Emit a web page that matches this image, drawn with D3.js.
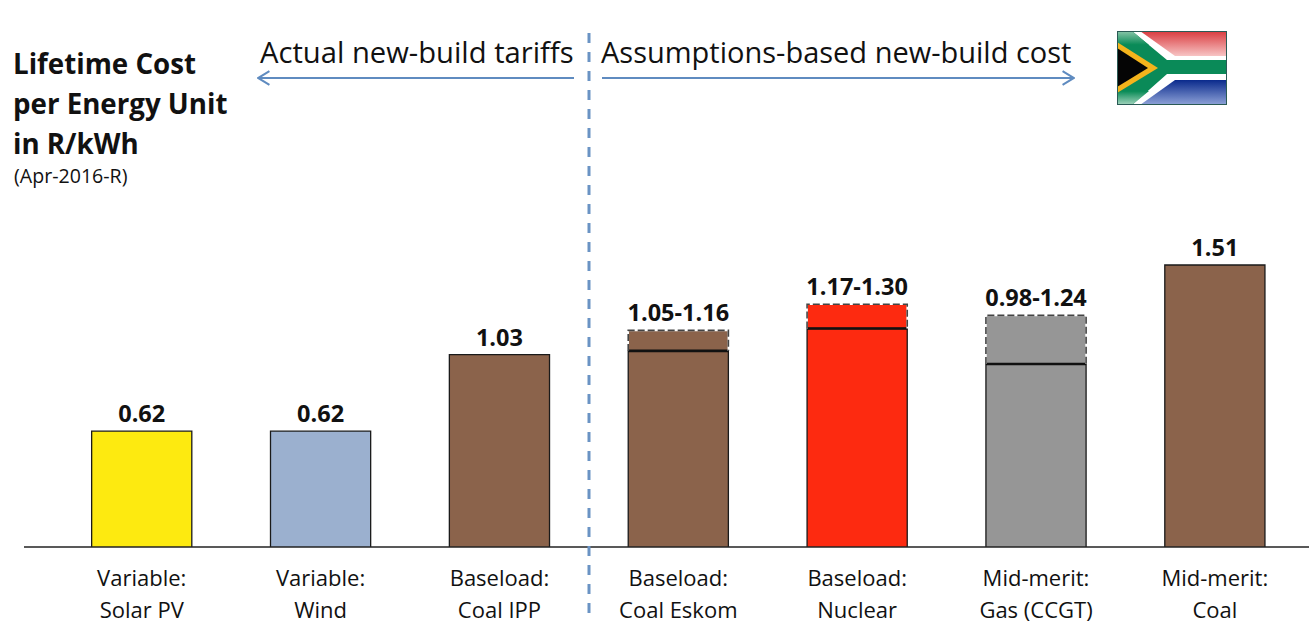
<!DOCTYPE html>
<html><head><meta charset="utf-8">
<script src="https://cdn.jsdelivr.net/npm/d3@7"></script>
<style>html,body{margin:0;padding:0;background:#fff}svg{display:block}text{font-family:"Open Sans",sans-serif;fill:#111}</style>
</head><body><svg id="c" width="1309" height="631"></svg>
<script>
const categoryTop = ["Variable:","Variable:","Baseload:","Baseload:","Baseload:","Mid-merit:","Mid-merit:"];
const categoryBottom = ["Solar PV","Wind","Coal IPP","Coal Eskom","Nuclear","Gas (CCGT)","Coal"];
const highValues = [0.62,0.62,1.03,1.16,1.30,1.24,1.51];
const lowValues = [null,null,null,1.05,1.17,0.98,null];
const valueLabels = ["0.62","0.62","1.03","1.05-1.16","1.17-1.30","0.98-1.24","1.51"];
const barColors = ["#fdea10","#9bb0cf","#8b634b","#8b634b","#fd2a10","#969696","#8b634b"];
const titleLines = ["Lifetime Cost","per Energy Unit","in R/kWh"];
const subtitle = "(Apr-2016-R)";
const leftHeader = "Actual new-build tariffs";
const rightHeader = "Assumptions-based new-build cost";

const svg = d3.select("#c");
const ids = d3.range(categoryBottom.length);
const x = d3.scaleBand().domain(ids).range([52.3,1304.3]).paddingInner(0.44).paddingOuter(0.22);
const y = d3.scaleLinear().domain([0,1.51]).range([547,265]);

const defs = svg.append("defs");
const m = defs.append("marker").attr("id","ah").attr("viewBox","0 0 14 14").attr("refX",13).attr("refY",7)
  .attr("markerWidth",16).attr("markerHeight",16).attr("markerUnits","userSpaceOnUse").attr("orient","auto-start-reverse");
m.append("path").attr("d","M3,1 L13,7 L3,13").attr("fill","none").attr("stroke","#5f8bc0").attr("stroke-width",1.8);

// bars
const g = svg.append("g").selectAll("g").data(ids).join("g");
g.append("rect").attr("x",i=>x(i)).attr("width",x.bandwidth())
  .attr("y",i=>y(highValues[i])).attr("height",i=>y(0)-y(highValues[i]))
  .attr("fill",i=>barColors[i]);
g.append("path").attr("fill","none").attr("stroke","#1a1a1a").attr("stroke-width",1.3)
  .attr("d",i=>{const t=y(lowValues[i]==null?highValues[i]:lowValues[i]),a=x(i),b=a+x.bandwidth();
    return `M${a},${y(0)}V${t}H${b}V${y(0)}`;});
g.filter(i=>lowValues[i]!=null).append("line").attr("x1",i=>x(i)).attr("x2",i=>x(i)+x.bandwidth())
  .attr("y1",i=>y(lowValues[i])).attr("y2",i=>y(lowValues[i])).attr("stroke","#111").attr("stroke-width",2.6);
g.filter(i=>lowValues[i]!=null).append("path").attr("fill","none").attr("stroke","#fff").attr("stroke-width",1.6)
  .attr("d",i=>{const t=y(highValues[i]),l=y(lowValues[i]),a=x(i),b=a+x.bandwidth();return `M${a},${l}V${t}H${b}V${l}`;});
g.filter(i=>lowValues[i]!=null).append("path").attr("fill","none").attr("stroke","#444").attr("stroke-width",1.6)
  .attr("stroke-dasharray","7 3")
  .attr("d",i=>{const t=y(highValues[i]),l=y(lowValues[i]),a=x(i),b=a+x.bandwidth();return `M${a},${l}V${t}H${b}V${l}`;});

// value labels
g.append("text").attr("x",i=>x(i)+x.bandwidth()/2).attr("y",i=>y(highValues[i])-9)
  .attr("text-anchor","middle").attr("font-size",23.5).attr("font-weight",700).text(i=>valueLabels[i]);

// baseline + category labels
svg.append("line").attr("x1",24).attr("x2",1309).attr("y1",y(0)).attr("y2",y(0)).attr("stroke","#222").attr("stroke-width",1.4);
g.append("text").attr("x",i=>x(i)+x.bandwidth()/2).attr("y",586).attr("text-anchor","middle").attr("font-size",22).attr("fill","#222").text(i=>categoryTop[i]);
g.append("text").attr("x",i=>x(i)+x.bandwidth()/2).attr("y",618).attr("text-anchor","middle").attr("font-size",22).attr("fill","#222").text(i=>categoryBottom[i]);

// title
svg.selectAll("text.t").data(titleLines).join("text").attr("class","t").attr("x",13).attr("y",(d,i)=>74+i*40)
  .attr("font-size",27.7).attr("font-weight",700).text(d=>d);
svg.append("text").attr("x",14).attr("y",183).attr("font-size",19.6).attr("fill","#333").text(subtitle);

// headers
svg.append("text").attr("x",260).attr("y",63).attr("font-size",29.2).attr("fill","#222").text(leftHeader);
svg.append("text").attr("x",601).attr("y",63).attr("font-size",29).attr("fill","#222").text(rightHeader);
svg.append("line").attr("x1",574).attr("x2",258).attr("y1",78).attr("y2",78).attr("stroke","#5f8bc0").attr("stroke-width",2.2).attr("marker-end","url(#ah)");
svg.append("line").attr("x1",602).attr("x2",1074).attr("y1",78).attr("y2",78).attr("stroke","#5f8bc0").attr("stroke-width",2.2).attr("marker-end","url(#ah)");
svg.append("line").attr("x1",589).attr("x2",589).attr("y1",33).attr("y2",622).attr("stroke","#6a93c4").attr("stroke-width",3).attr("stroke-dasharray","10 9");

// flag
const grad=(id,a,b)=>{const l=defs.append("linearGradient").attr("id",id).attr("x1",0).attr("x2",0).attr("y1",0).attr("y2",1);
 l.append("stop").attr("offset",0).attr("stop-color",a);l.append("stop").attr("offset",1).attr("stop-color",b);};
grad("gr","#d93a3e","#f7c4c4");grad("gb","#0a2a8c","#8fa3d8");grad("gg1","#8cc6aa","#078a55");grad("gg2","#078a55","#a5d5bf");
const f=svg.append("g").attr("transform","translate(1117,31)");
f.append("rect").attr("width",110).attr("height",74).attr("fill","#fff");
f.append("path").attr("d","M23,0H110V25H58Z").attr("fill","url(#gr)");
f.append("path").attr("d","M23,74H110V49H58Z").attr("fill","url(#gb)");
f.append("path").attr("d","M0,0H15L50,29H110V43H50L15,74H0Z").attr("fill","#0a8a58");
f.append("path").attr("d","M0,0H15L32,14H0Z").attr("fill","url(#gg1)");
f.append("path").attr("d","M0,74H15L32,60H0Z").attr("fill","url(#gg2)");
f.append("path").attr("d","M0,11L41,37L0,62Z").attr("fill","#f4b41c");
f.append("path").attr("d","M0,17L31,37L0,56Z").attr("fill","#050505");
f.append("rect").attr("x",.5).attr("y",.5).attr("width",109).attr("height",73).attr("fill","none").attr("stroke","#2a5a55").attr("stroke-width",1);
</script></body></html>
